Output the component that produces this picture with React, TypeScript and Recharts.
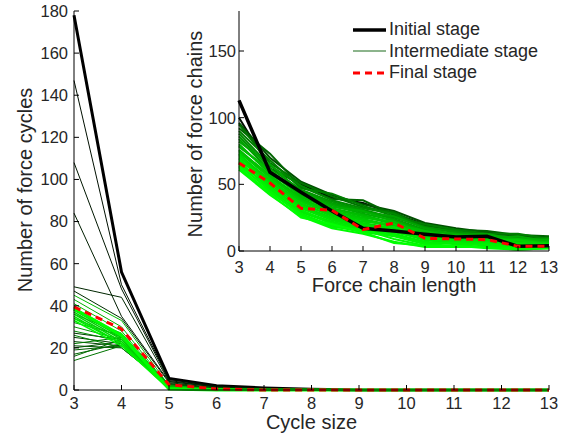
import React from 'react';
import { LineChart, Line, XAxis, YAxis, CartesianGrid, Legend } from 'recharts';

const cycleSizes = [3, 4, 5, 6, 7, 8, 9, 10, 11, 12, 13];
const chainLengths = [3, 4, 5, 6, 7, 8, 9, 10, 11, 12, 13];
const mainYTicks = [0, 20, 40, 60, 80, 100, 120, 140, 160, 180];
const insetYTicks = [0, 50, 100, 150];

const initialCycles = [178, 56, 5.5, 2, 1, 0.3, 0, 0, 0, 0, 0];
const finalCycles = [39.5, 29, 2.5, 0.5, 0, 0, 0, 0, 0, 0, 0];
const intermediateCycles: number[][] = [
  [147, 50, 5, 2, 1, 0.3, 0, 0, 0, 0, 0],
  [108, 48, 4.5, 1.5, 0.5, 0, 0, 0, 0, 0, 0],
  [84, 35, 4, 1.5, 0.5, 0, 0, 0, 0, 0, 0],
  [49, 44, 4, 1.5, 0.5, 0, 0, 0, 0, 0, 0],
  [47, 34, 3.5, 1, 0.3, 0, 0, 0, 0, 0, 0],
  [27, 24, 3, 1, 0.3, 0, 0, 0, 0, 0, 0],
  [25, 22, 3, 1, 0, 0, 0, 0, 0, 0, 0],
  [23, 21, 2.5, 1, 0, 0, 0, 0, 0, 0, 0],
  [21, 20, 2, 1, 0, 0, 0, 0, 0, 0, 0],
  [20, 23, 2.5, 1, 0, 0, 0, 0, 0, 0, 0],
  [19, 21, 2, 0.5, 0, 0, 0, 0, 0, 0, 0],
  [17, 22, 2, 0.5, 0, 0, 0, 0, 0, 0, 0],
  [16, 24, 2, 0.5, 0, 0, 0, 0, 0, 0, 0],
  [14, 21, 1.5, 0.5, 0, 0, 0, 0, 0, 0, 0],
  [22, 25, 2, 0.5, 0, 0, 0, 0, 0, 0, 0],
  [26, 20, 2, 0.5, 0, 0, 0, 0, 0, 0, 0],
  [28, 23, 2, 0.5, 0, 0, 0, 0, 0, 0, 0],
  [30, 24, 2, 0.5, 0, 0, 0, 0, 0, 0, 0],
  [32, 26, 1.5, 0.5, 0, 0, 0, 0, 0, 0, 0],
  [34, 25, 1.5, 0.5, 0, 0, 0, 0, 0, 0, 0],
  [36, 27, 1.5, 0.3, 0, 0, 0, 0, 0, 0, 0],
  [43, 30, 1.5, 0.3, 0, 0, 0, 0, 0, 0, 0],
  [45, 33, 2, 0.5, 0, 0, 0, 0, 0, 0, 0],
  [41, 28, 1.5, 0.3, 0, 0, 0, 0, 0, 0, 0],
  [38, 25, 1, 0.3, 0, 0, 0, 0, 0, 0, 0],
  [37, 24, 1, 0.3, 0, 0, 0, 0, 0, 0, 0],
  [36, 23, 0.5, 0, 0, 0, 0, 0, 0, 0, 0],
  [35, 22, 0.5, 0, 0, 0, 0, 0, 0, 0, 0],
  [34, 22, 0.5, 0, 0, 0, 0, 0, 0, 0, 0],
  [39, 26, 1, 0.3, 0, 0, 0, 0, 0, 0, 0],
  [33, 21, 0.5, 0, 0, 0, 0, 0, 0, 0, 0],
  [38.5, 26, 0.5, 0, 0, 0, 0, 0, 0, 0, 0],
];

const initialChains = [113, 59, 44, 30, 17, 15, 12.5, 10.5, 11, 3.5, 4];
const finalChains = [66, 51, 32, 30.5, 16, 21, 9.5, 9, 8.5, 3.5, 3.5];
const intermediateChains: number[][] = [
  [100, 62, 50, 40, 36, 28, 20, 15, 13, 12, 10],
  [96, 70, 52, 42, 35, 30, 21, 17, 14, 11, 9],
  [92, 73, 48, 39, 38, 27, 19, 16, 15, 12, 11],
  [95, 66, 51, 41, 33, 29, 18, 14, 12, 10, 8],
  [90, 68, 47, 43, 34, 26, 20, 16, 13, 13, 9],
  [88, 64, 49, 38, 32, 28, 17, 15, 11, 9, 10],
  [86, 62, 46, 37, 31, 25, 18, 14, 12, 10, 8],
  [84, 60, 45, 36, 30, 24, 16, 13, 11, 9, 7],
  [82, 65, 44, 35, 29, 26, 17, 12, 13, 8, 9],
  [80, 58, 43, 34, 28, 23, 15, 13, 10, 11, 7],
  [78, 61, 42, 33, 30, 22, 14, 11, 12, 9, 8],
  [76, 56, 40, 32, 27, 21, 13, 12, 9, 8, 6],
  [79, 59, 41, 31, 26, 20, 15, 10, 11, 7, 7],
  [75, 57, 39, 30, 25, 22, 12, 11, 8, 9, 6],
  [74, 55, 38, 29, 24, 19, 13, 9, 10, 7, 5],
  [72, 53, 37, 28, 23, 18, 11, 10, 8, 6, 6],
  [70, 54, 35, 27, 22, 20, 10, 8, 9, 8, 5],
  [73, 51, 36, 26, 21, 17, 12, 9, 7, 5, 4],
  [68, 52, 34, 25, 20, 16, 9, 7, 8, 6, 5],
  [71, 50, 33, 24, 19, 18, 10, 8, 6, 4, 4],
  [66, 48, 32, 23, 18, 15, 8, 6, 7, 5, 3],
  [69, 49, 30, 22, 17, 14, 9, 7, 5, 3, 4],
  [64, 46, 29, 21, 16, 13, 7, 5, 6, 4, 3],
  [67, 47, 31, 20, 15, 12, 6, 6, 4, 2, 3],
  [62, 44, 28, 19, 14, 11, 5, 4, 5, 3, 2],
  [65, 45, 27, 18, 16, 9, 4, 3, 3, 1, 2],
  [61, 42, 26, 17, 13, 7, 3, 3, 3, 2, 3],
  [63, 43, 25, 20, 14, 6, 4, 4, 2, 1, 2],
];

const legendItems = ['Initial stage', 'Intermediate stage', 'Final stage'];

const FONT = '"Liberation Sans", Arial, Helvetica, sans-serif';
const TEXT = '#262626';

const stageColor = (i: number, n: number, gamma: number) =>
  `rgb(0, ${Math.round(15 + 240 * Math.pow(i / (n - 1), gamma))}, 0)`;

function buildRows(xs: number[], initial: number[], final: number[], inter: number[][]) {
  return xs.map((x, j) => {
    const row: Record<string, number> = { x, initial: initial[j], final: final[j] };
    inter.forEach((s, i) => {
      row['s' + i] = s[j];
    });
    return row;
  });
}

const mainRows = buildRows(cycleSizes, initialCycles, finalCycles, intermediateCycles);
const insetRows = buildRows(chainLengths, initialChains, finalChains, intermediateChains);

const tickStyle = { fill: TEXT, fontSize: 16.5, fontFamily: FONT };
const axisLine = { stroke: '#000', strokeWidth: 1 };

const LegendContent = () => {
  const samples = [
    { stroke: '#000', width: 3.5, dash: undefined as string | undefined },
    { stroke: '#1a6b1a', width: 1.2, dash: undefined },
    { stroke: '#ff0000', width: 3, dash: '7 5' },
  ];
  return (
    <div style={{ fontFamily: FONT, fontSize: 18, color: TEXT, lineHeight: '21.5px' }}>
      {legendItems.map((name, i) => (
        <div key={name} style={{ display: 'flex', alignItems: 'center', height: 21.5 }}>
          <svg width={33} height={10} style={{ marginRight: 3 }}>
            <line
              x1={0}
              x2={33}
              y1={5}
              y2={5}
              stroke={samples[i].stroke}
              strokeWidth={samples[i].width}
              strokeDasharray={samples[i].dash}
            />
          </svg>
          <span style={{ whiteSpace: 'nowrap' }}>{name}</span>
        </div>
      ))}
    </div>
  );
};

export default function App() {
  const nMain = intermediateCycles.length;
  const nInset = intermediateChains.length;
  return (
    <div style={{ position: 'absolute', left: 0, top: 0, width: 567, height: 438, background: '#fff' }}>
      <div style={{ position: 'absolute', left: 0, top: 0 }}>
        <LineChart width={567} height={438} data={mainRows} margin={{ top: 11, right: 18, bottom: 18, left: 14 }}>
          <XAxis
            dataKey="x"
            type="number"
            domain={[3, 13]}
            ticks={cycleSizes}
            interval={0}
            height={30}
            tickSize={-5}
            tickMargin={12}
            tick={tickStyle}
            axisLine={axisLine}
            tickLine={axisLine}
            label={{
              content: (p: any) => {
                const vb = p.viewBox || {};
                return (
                  <text x={vb.x + vb.width / 2} y={vb.y + 39} textAnchor="middle" fontSize={20} fontFamily={FONT} fill={TEXT}>
                    Cycle size
                  </text>
                );
              },
            }}
          />
          <XAxis
            xAxisId="top"
            orientation="top"
            dataKey="x"
            type="number"
            domain={[3, 13]}
            ticks={cycleSizes}
            interval={0}
            height={0}
            tickSize={-5}
            tick={false}
            axisLine={axisLine}
            tickLine={axisLine}
          />
          <YAxis
            type="number"
            domain={[0, 180]}
            ticks={mainYTicks}
            interval={0}
            width={60}
            tickSize={-5}
            tickMargin={11}
            tick={tickStyle}
            axisLine={axisLine}
            tickLine={axisLine}
            label={{
              content: (p: any) => {
                const vb = p.viewBox || {};
                const cx = vb.x + 18;
                const cy = 190;
                return (
                  <text x={cx} y={cy} transform={`rotate(-90, ${cx}, ${cy})`} textAnchor="middle" fontSize={20} fontFamily={FONT} fill={TEXT}>
                    Number of force cycles
                  </text>
                );
              },
            }}
          />
          <YAxis
            yAxisId="right"
            orientation="right"
            type="number"
            domain={[0, 180]}
            ticks={mainYTicks}
            interval={0}
            width={0}
            tickSize={-5}
            tick={false}
            axisLine={axisLine}
            tickLine={axisLine}
          />
          <Line dataKey="initial" stroke="#000" strokeWidth={3} dot={false} isAnimationActive={false} type="linear" />
          {intermediateCycles.map((_, i) => (
            <Line
              key={'m' + i}
              dataKey={'s' + i}
              stroke={stageColor(i, nMain, 1)}
              strokeWidth={i === nMain - 1 ? 3.2 : i >= nMain - 8 ? 1.5 : 1}
              dot={false}
              isAnimationActive={false}
              type="linear"
            />
          ))}
          <Line dataKey="final" stroke="#ff0000" strokeWidth={3} strokeDasharray="7 5" dot={false} isAnimationActive={false} type="linear" />
        </LineChart>
      </div>
      <div style={{ position: 'absolute', left: 0, top: 0 }}>
        <LineChart width={567} height={300} data={insetRows} margin={{ top: 11, right: 18, bottom: 18, left: 189 }}>
          <CartesianGrid fill="#fff" horizontal={false} vertical={false} />
          <XAxis
            dataKey="x"
            type="number"
            domain={[3, 13]}
            ticks={chainLengths}
            interval={0}
            height={31}
            tickSize={-5}
            tickMargin={15}
            tick={tickStyle}
            axisLine={axisLine}
            tickLine={axisLine}
            label={{
              content: (p: any) => {
                const vb = p.viewBox || {};
                return (
                  <text x={vb.x + vb.width / 2} y={vb.y + 41} textAnchor="middle" fontSize={20} fontFamily={FONT} fill={TEXT}>
                    Force chain length
                  </text>
                );
              },
            }}
          />
          <XAxis
            xAxisId="top"
            orientation="top"
            dataKey="x"
            type="number"
            domain={[3, 13]}
            ticks={chainLengths}
            interval={0}
            height={0}
            tickSize={-5}
            tick={false}
            axisLine={axisLine}
            tickLine={axisLine}
          />
          <YAxis
            type="number"
            domain={[0, 180]}
            ticks={insetYTicks}
            interval={0}
            width={50}
            tickSize={-5}
            tickMargin={8}
            tick={tickStyle}
            axisLine={axisLine}
            tickLine={axisLine}
            label={{
              content: (p: any) => {
                const vb = p.viewBox || {};
                const cx = vb.x + 13;
                const cy = vb.y + vb.height / 2 + 3;
                return (
                  <text x={cx} y={cy} transform={`rotate(-90, ${cx}, ${cy})`} textAnchor="middle" fontSize={20} fontFamily={FONT} fill={TEXT}>
                    Number of force chains
                  </text>
                );
              },
            }}
          />
          <YAxis
            yAxisId="right"
            orientation="right"
            type="number"
            domain={[0, 180]}
            ticks={insetYTicks}
            interval={0}
            width={0}
            tickSize={-5}
            tick={false}
            axisLine={axisLine}
            tickLine={axisLine}
          />
          {intermediateChains.map((_, i) => (
            <Line
              key={'c' + i}
              dataKey={'s' + i}
              stroke={stageColor(i, nInset, 0.4)}
              strokeWidth={2}
              dot={false}
              isAnimationActive={false}
              type="linear"
            />
          ))}
          <Line dataKey="initial" stroke="#000" strokeWidth={3.5} dot={false} isAnimationActive={false} type="linear" />
          <Line dataKey="final" stroke="#ff0000" strokeWidth={3} strokeDasharray="7 5" dot={false} isAnimationActive={false} type="linear" />
          <Legend
            layout="horizontal"
            verticalAlign="middle"
            align="center"
            content={<LegendContent />}
            wrapperStyle={{ position: 'absolute', left: 353, top: 19, width: 'auto', margin: 0 }}
          />
        </LineChart>
      </div>
    </div>
  );
}
